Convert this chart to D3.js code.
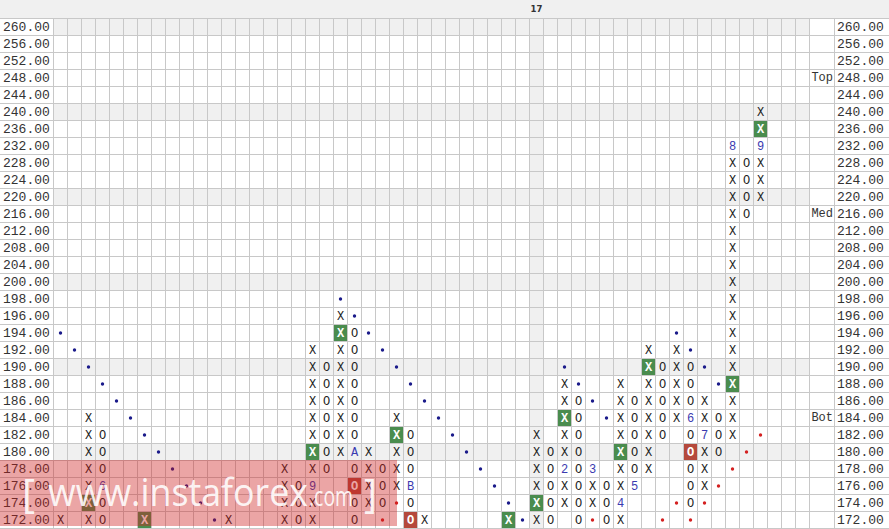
<!DOCTYPE html>
<html><head><meta charset="utf-8">
<script src="https://cdn.jsdelivr.net/npm/d3@7/dist/d3.min.js"></script>
<style>html,body{margin:0;padding:0;background:#fff;}svg{display:block;}</style>
</head><body>
<svg id="c" width="889" height="529"></svg>
<script>
// ---- data ----
const priceLevels = [260,256,252,248,244,240,236,232,228,224,220,216,212,208,204,200,
  198,196,194,192,190,188,186,184,182,180,178,176,174,172];
const columnCount = 54;
const shadedColumn = 34;
const headerLabels = [{col: 34, text: "17"}];
const sideLabels = [{price: 248, text: "Top"}, {price: 216, text: "Med"}, {price: 184, text: "Bot"}];
// P&F columns: [column, type, low, high]
const pfColumns = [
  [0,"X",172,172],[2,"X",172,184],[3,"O",172,182],[6,"X",172,172],[12,"X",172,172],
  [16,"X",172,178],[17,"O",172,176],[18,"X",172,192],[19,"O",178,190],[20,"X",180,196],
  [21,"O",172,194],[22,"X",174,180],[23,"O",174,178],[24,"X",176,184],[25,"O",172,182],
  [26,"X",172,172],[32,"X",172,172],[34,"X",172,182],[35,"O",172,180],[36,"X",174,188],
  [37,"O",172,186],[38,"X",174,178],[39,"O",172,176],[40,"X",172,188],[41,"O",176,186],
  [42,"X",178,192],[43,"O",182,190],[44,"X",184,192],[45,"O",174,190],[46,"X",176,186],
  [47,"O",180,184],[48,"X",182,232],[49,"O",216,228],[50,"X",220,240]
];
// month markers replacing a box: [column, price, label]
const monthMarks = [[3,176,"6"],[18,176,"9"],[21,180,"A"],[25,176,"B"],[36,178,"2"],[38,178,"3"],
  [40,174,"4"],[41,176,"5"],[45,184,"6"],[46,182,"7"],[48,232,"8"],[50,232,"9"]];
// highlighted signal boxes: [column, price]
const greenBoxes = [[2,174],[6,172],[18,180],[20,194],[24,182],[32,172],[34,174],[36,184],[40,180],[42,190],[48,188],[50,236]];
const redBoxes = [[21,176],[25,172],[45,180]];
// trend lines dots: [column, price]
const blueDots = [[0,194],[1,192],[2,190],[3,188],[4,186],[5,184],[6,182],[7,180],[8,178],[9,176],[10,174],[11,172],
  [20,198],[21,196],[22,194],[23,192],[24,190],[25,188],[26,186],[27,184],[28,182],[29,180],[30,178],[31,176],[32,174],[33,172],
  [36,190],[37,188],[38,186],[39,184],[44,194],[45,192],[46,190],[47,188]];
const redDots = [[23,172],[24,174],[38,172],[43,172],[44,174],[45,172],[46,174],[47,176],[48,178],[49,180],[50,182]];

// ---- layout ----
const W = 889, H = 529;
const gridLeft = 53.5, colW = 14, gridTop = 18.5, rowH = 17;
const gridRight = gridLeft + colW * columnCount; // 809.5
const sideRight = 834.5;
const svg = d3.select("#c");
const x = d3.scaleBand().domain(d3.range(columnCount)).range([gridLeft, gridRight]).padding(0);
const y = d3.scaleBand().domain(priceLevels).range([gridTop, gridTop + rowH * priceLevels.length]).padding(0);
const cx = c => x(c) + x.bandwidth() / 2;
const cy = p => y(p) + y.bandwidth() / 2;
const fmt = d3.format(".2f");
const mono = "'Liberation Mono', 'DejaVu Sans Mono', monospace";

// header
svg.append("rect").attr("x",0).attr("y",0).attr("width",W).attr("height",18).attr("fill","#f0f0f0");
svg.selectAll(".hl").data(headerLabels).join("text")
  .attr("x", d => cx(d.col)).attr("y", 9).attr("text-anchor","middle").attr("dominant-baseline","central")
  .attr("font-family","'DejaVu Sans', sans-serif").attr("font-size",8.5).attr("font-weight","bold").attr("fill","#333")
  .text(d => d.text);

// shaded rows (every 5th row) & shaded column
svg.selectAll(".srow").data(priceLevels.filter((p,i) => i % 5 === 0)).join("rect")
  .attr("x", gridLeft).attr("y", d => y(d)).attr("width", gridRight - gridLeft).attr("height", y.bandwidth())
  .attr("fill","#f0f0f0");
svg.append("rect").attr("x", x(shadedColumn)).attr("y", gridTop).attr("width", x.bandwidth())
  .attr("height", rowH * priceLevels.length).attr("fill","#f0f0f0");

// grid lines
const gridColor = "#c8c8c8";
svg.selectAll(".hline").data(d3.range(priceLevels.length + 1)).join("line")
  .attr("x1",0).attr("x2",W).attr("y1", i => gridTop + i*rowH).attr("y2", i => gridTop + i*rowH)
  .attr("stroke",gridColor).attr("stroke-width",1);
const vlines = d3.range(columnCount + 1).map(i => gridLeft + i*colW).concat([sideRight]);
svg.selectAll(".vline").data(vlines).join("line")
  .attr("x1", d => d).attr("x2", d => d).attr("y1", gridTop).attr("y2", gridTop + rowH*priceLevels.length)
  .attr("stroke",gridColor).attr("stroke-width",1);

// axis labels
svg.selectAll(".ly").data(priceLevels).join("text")
  .attr("x", 3).attr("y", d => cy(d)).attr("dominant-baseline","central")
  .attr("font-family", mono).attr("font-size",13).attr("fill","#333").text(d => fmt(d));
svg.selectAll(".ry").data(priceLevels).join("text")
  .attr("x", 837).attr("y", d => cy(d)).attr("dominant-baseline","central")
  .attr("font-family", mono).attr("font-size",13).attr("fill","#333").text(d => fmt(d));
svg.selectAll(".side").data(sideLabels).join("text")
  .attr("x", 833).attr("y", d => cy(d.price)).attr("text-anchor","end").attr("dominant-baseline","central")
  .attr("font-family", mono).attr("font-size",12).attr("fill","#333").text(d => d.text);

// trend dots
svg.selectAll(".bd").data(blueDots).join("circle")
  .attr("cx", d => cx(d[0])).attr("cy", d => cy(d[1])).attr("r",1.7).attr("fill","#1a1a8a");
svg.selectAll(".rd").data(redDots).join("circle")
  .attr("cx", d => cx(d[0])).attr("cy", d => cy(d[1])).attr("r",1.7).attr("fill","#d42020");

// build cells
const key = (c,p) => c + "|" + p;
const monthMap = new Map(monthMarks.map(d => [key(d[0],d[1]), d[2]]));
const greenSet = new Set(greenBoxes.map(d => key(d[0],d[1])));
const redSet = new Set(redBoxes.map(d => key(d[0],d[1])));
const cells = [];
pfColumns.forEach(([c,t,lo,hi]) => {
  priceLevels.filter(p => p >= lo && p <= hi).forEach(p => {
    const k = key(c,p);
    cells.push({c, p, t, month: monthMap.get(k), green: greenSet.has(k), red: redSet.has(k)});
  });
});
const boxed = cells.filter(d => d.green || d.red);
svg.selectAll(".box").data(boxed).join("rect")
  .attr("x", d => x(d.c) + 0.5).attr("y", d => y(d.p) + 0.5)
  .attr("width", x.bandwidth() - 1).attr("height", y.bandwidth() - 1)
  .attr("fill", d => d.green ? "#4a8c4e" : "#b5493c");
svg.selectAll(".mk").data(cells).join("text")
  .attr("x", d => cx(d.c)).attr("y", d => cy(d.p) + 0.5)
  .attr("text-anchor","middle").attr("dominant-baseline","central")
  .attr("font-family", mono).attr("font-size",12)
  .attr("font-weight", d => (d.green || d.red) ? "bold" : "normal")
  .attr("fill", d => (d.green || d.red) ? "#ffffff" : (d.month ? "#3a3ab0" : "#222"))
  .text(d => (d.green || d.red) ? d.t : (d.month || d.t));

// watermark
svg.append("rect").attr("x",0).attr("y",460).attr("width",397).attr("height",66)
  .attr("fill","rgb(205,30,30)").attr("fill-opacity",0.4);
const wm = svg.append("g").attr("fill","#fff").attr("fill-opacity",0.9).attr("font-family","'Open Sans', sans-serif");
wm.append("text").attr("x",22).attr("y",508).attr("font-size",40).text("[");
wm.append("text").attr("x",48).attr("y",506).attr("font-size",38).attr("textLength",260).attr("lengthAdjust","spacingAndGlyphs").text("www.instaforex");
wm.append("text").attr("x",309).attr("y",506).attr("font-size",27).attr("textLength",44).attr("lengthAdjust","spacingAndGlyphs").text(".com");
wm.append("text").attr("x",364).attr("y",508).attr("font-size",40).text("]");
</script>
</body></html>
